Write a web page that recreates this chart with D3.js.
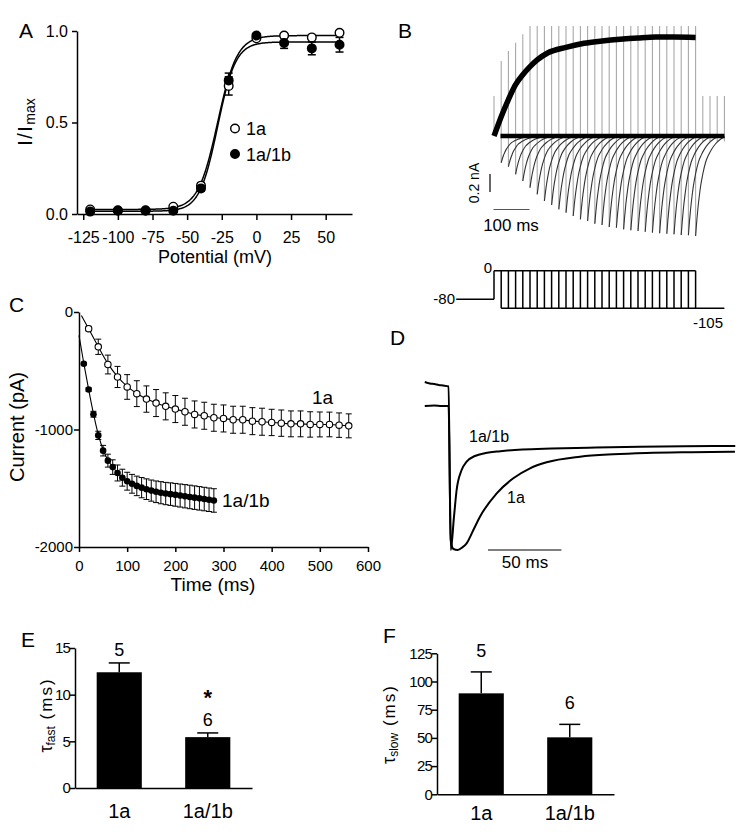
<!DOCTYPE html>
<html><head><meta charset="utf-8">
<script src="https://cdn.jsdelivr.net/npm/d3@7"></script>
<style>body{margin:0;background:#fff}svg{display:block}</style>
</head><body><svg id="fig" width="753" height="832"></svg>
<script>
// ---------------- DATA ----------------
// Panel A: activation curves
const aVolt   = [-120,-100,-80,-60,-40,-20,0,20,40,60];
const a1a     = [0.025,0.02,0.02,0.04,0.155,0.70,0.96,0.975,0.965,0.99];
const a1aErr  = [0.005,0.005,0.005,0.008,0.015,0.05,0.01,0.01,0.01,0.01];
const a1ab    = [0.013,0.018,0.018,0.018,0.14,0.73,0.975,0.935,0.905,0.925];
const a1abErr = [0.005,0.005,0.005,0.005,0.015,0.04,0.01,0.03,0.035,0.04];
const aFit1a  = {vh:-28, k:7.0, bottom:0.025, top:0.975};
const aFit1ab = {vh:-28, k:6.5, bottom:0.015, top:0.94};
const aTicksX = [-125,-100,-75,-50,-25,0,25,50];
const aTicksY = [0,0.5,1.0];

// Panel B: envelope / tails (pA, ms)
const bEnvT = [0,20,40,60,80,100,120,150,200,250,300,350,400,450,500,560];
const bEnvI = [0,215,405,570,680,770,845,925,985,1030,1055,1075,1090,1100,1100,1095];
const bPulseT = [20,40,60,80,100,120,140,160,180,200,220,240,260,280,300,320,340,360,380,400,420,440,460,480,500,520,540,560];
const bTailPeak = [-297,-341,-426,-500,-574,-648,-722,-767,-815,-852,-889,-926,-944,-974,-989,-1011,-1019,-1037,-1048,-1056,-1063,-1074,-1081,-1086,-1092,-1100,-1103,-1111];
const bSpikeTop = [833,944,1037,1130,1222,1222,1222,1222,1222,1222,1222,1222,1222,1222,1222,1222,1222,1222,1222,1222,1222,1222,1222,1222,1222,1222,1222,1222];
const bOnsetTop = 444;
const bOffT = [580,600,620,640];
const bOffTop = 444;
const bTailShapeT = [0,3,6,10,14,20,28,36,45,55,70,90];
const bTailShapeF = [1,0.86,0.74,0.61,0.5,0.38,0.26,0.19,0.13,0.08,0.03,0];
const bProtoV = {hold:-80, step:0, tail:-105};

// Panel C: tail current vs pulse duration
const c1aT = [20,40,60,80,100,120,140,160,180,200,220,240,260,280,300,320,340,360,380,400,420,440,460,480,500,520,540,560];
const c1aI = [-142,-296,-447,-553,-638,-695,-741,-775,-803,-826,-849,-872,-883,-900,-906,-917,-917,-929,-934,-940,-946,-952,-952,-957,-957,-957,-963,-969];
const c1aE = [20,65,80,90,105,110,112,115,115,115,115,115,115,115,115,115,115,115,115,112,112,110,110,108,106,105,104,102];
const c1abT = [10,20,30,40,50,60,70,80,90,100,110,120,130,140,150,160,170,180,190,200,210,220,230,240,250,260,270,280];
const c1abI = [-440,-660,-870,-1050,-1180,-1265,-1320,-1370,-1410,-1440,-1462,-1480,-1495,-1508,-1520,-1530,-1538,-1545,-1550,-1556,-1562,-1568,-1574,-1580,-1586,-1592,-1598,-1604];
const c1abE = [5,15,25,35,45,55,62,68,72,76,80,83,86,88,90,92,94,95,96,97,98,99,100,100,100,100,100,100];
const cFitStart1a = [5,-30];
const cFitStart1ab = [0,-200];
const cTicksX = [0,100,200,300,400,500,600];
const cTicksY = [0,-1000,-2000];

// Panel D: normalized traces
const dAbT = [-16.5,-13,-10,-7,-4,-0.3,1.2,3.4,5.2,8.6,12,17.7,25,35,50,70,100,130,160,195];
const dAbI = [0.68,0.665,0.66,0.65,0.645,0.635,-1.0,-0.667,-0.4,-0.2,-0.117,-0.06,-0.03,-0.012,0.005,0.015,0.025,0.033,0.038,0.04];
const dAT  = [-16.5,-10,-5,-0.3,1.2,3,6,9,12,16.6,21.1,32.5,43.8,55.2,66.5,89.2,111.9,134.6,165,194.8];
const dAI  = [0.44,0.445,0.44,0.44,-0.9,-0.99,-1.0,-0.975,-0.933,-0.8,-0.667,-0.433,-0.283,-0.183,-0.123,-0.067,-0.043,-0.03,-0.022,-0.017];

// Panels E/F: bar charts
const barCats = ["1a","1a/1b"];
const nCells = [5,6];
const tauFast = [12.4,5.45];
const tauFastErr = [1.0,0.45];
const tauSlow = [89.5,50.5];
const tauSlowErr = [19,11.5];
const eTicks = [0,5,10,15];
const fTicks = [0,25,50,75,100,125];

// ---------------- DRAW ----------------
const FONT = '"Liberation Sans", Arial, Helvetica, sans-serif';
const svg = d3.select("#fig");
svg.append("rect").attr("width",753).attr("height",832).attr("fill","#fff");

function styleAxis(g, fs){
  g.attr("font-family",FONT).attr("font-size",fs);
  g.select(".domain").attr("stroke","#000").attr("stroke-width",1.5);
  g.selectAll(".tick line").attr("stroke","#000").attr("stroke-width",1.5);
  g.selectAll(".tick text").attr("fill","#000");
}
function text(x,y,s,fs,anchor){
  return svg.append("text").attr("x",x).attr("y",y).attr("font-family",FONT)
    .attr("font-size",fs).attr("text-anchor",anchor||"start").attr("fill","#000").text(s);
}
const fmt = d => String(d);

// Panel letters
text(19,38,"A",21); text(398,38,"B",21); text(9,312,"C",21);
text(390,345,"D",21); text(21,647,"E",21); text(383,643,"F",21);

// ---------- Panel A ----------
{
  const x = d3.scaleLinear().domain([-129.5,69]).range([77,352]);
  const y = d3.scaleLinear().domain([0,1]).range([214,31]);
  const gx = svg.append("g").attr("transform","translate(0,214)")
    .call(d3.axisBottom(x).tickValues(aTicksX).tickFormat(fmt).tickSize(6).tickSizeOuter(0).tickPadding(12));
  styleAxis(gx,16);
  const gy = svg.append("g").attr("transform","translate(77,0)")
    .call(d3.axisLeft(y).tickValues(aTicksY).tickFormat(d3.format(".1f")).tickSize(5).tickSizeOuter(0).tickPadding(4));
  styleAxis(gy,16);
  const boltz = (v,f) => f.bottom + (f.top-f.bottom)/(1+Math.exp((f.vh-v)/f.k));
  const vs = d3.range(-123,63,0.5);
  [aFit1a,aFit1ab].forEach(f=>{
    svg.append("path").attr("d",d3.line().x(v=>x(v)).y(v=>y(boltz(v,f)))(vs))
      .attr("fill","none").attr("stroke","#000").attr("stroke-width",1.5);
  });
  const series = [{v:a1a,e:a1aErr,fill:"#fff"},{v:a1ab,e:a1abErr,fill:"#000"}];
  series.forEach(s=>{
    aVolt.forEach((v,i)=>{
      const cx=x(v), y1=y(s.v[i]+s.e[i]), y2=y(s.v[i]-s.e[i]);
      svg.append("line").attr("x1",cx).attr("x2",cx).attr("y1",y1).attr("y2",y2).attr("stroke","#000").attr("stroke-width",1.5);
      [y1,y2].forEach(yy=>svg.append("line").attr("x1",cx-4).attr("x2",cx+4).attr("y1",yy).attr("y2",yy).attr("stroke","#000").attr("stroke-width",1.5));
    });
  });
  series.forEach(s=>{
    svg.append("g").selectAll("circle").data(aVolt).join("circle")
      .attr("cx",v=>x(v)).attr("cy",(v,i)=>y(s.v[i])).attr("r",4.3)
      .attr("fill",s.fill).attr("stroke","#000").attr("stroke-width",1.4);
  });
  // legend
  svg.append("circle").attr("cx",235).attr("cy",128.5).attr("r",4.3).attr("fill","#fff").attr("stroke","#000").attr("stroke-width",1.4);
  text(246,135,"1a",18);
  svg.append("circle").attr("cx",235).attr("cy",154).attr("r",4.3).attr("fill","#000").attr("stroke","#000").attr("stroke-width",1.4);
  text(246,161,"1a/1b",18);
  text(215,263,"Potential (mV)",18,"middle");
  const yl = svg.append("text").attr("transform","translate(32,122) rotate(-90)")
    .attr("font-family",FONT).attr("text-anchor","middle").attr("fill","#000");
  yl.append("tspan").attr("font-size",20).attr("letter-spacing",1.5).text("I/I");
  yl.append("tspan").attr("font-size",14).attr("dy",3).text("max");
}

// ---------- Panel B ----------
{
  const x = d3.scaleLinear().domain([0,100]).range([494,530]);
  const y = d3.scaleLinear().domain([0,1000]).range([136,46]);
  const clipId="clipB";
  svg.append("clipPath").attr("id",clipId).append("rect").attr("x",440).attr("y",0).attr("width",x(640)-440+0.5).attr("height",260);
  const gB = svg.append("g").attr("clip-path",`url(#${clipId})`);
  const gray="#a8a8a8";
  // capacitive spikes
  gB.append("line").attr("x1",x(0)).attr("x2",x(0)).attr("y1",y(bOnsetTop)).attr("y2",y(0)).attr("stroke",gray).attr("stroke-width",1.1);
  bPulseT.forEach((t,i)=>{
    gB.append("line").attr("x1",x(t)).attr("x2",x(t)).attr("y1",y(bSpikeTop[i])).attr("y2",y(bTailPeak[i]))
      .attr("stroke",gray).attr("stroke-width",1.1);
  });
  bOffT.forEach(t=>{
    gB.append("line").attr("x1",x(t)).attr("x2",x(t)).attr("y1",y(bOffTop)).attr("y2",y(-60))
      .attr("stroke",gray).attr("stroke-width",1.1);
  });
  // tails
  const tl = d3.line().x(d=>x(d[0])).y(d=>y(d[1])).curve(d3.curveMonotoneX);
  bPulseT.forEach((t,i)=>{
    const pts = bTailShapeT.map((s,j)=>[t+s, bTailPeak[i]*bTailShapeF[j]]);
    gB.append("path").attr("d",tl(pts)).attr("fill","none").attr("stroke","#333").attr("stroke-width",1.1);
  });
  // baseline band
  gB.append("line").attr("x1",x(18)).attr("x2",x(640)).attr("y1",y(0)).attr("y2",y(0)).attr("stroke","#000").attr("stroke-width",4.5);
  // envelope
  const env = bEnvT.map((t,i)=>[t,bEnvI[i]]);
  gB.append("path").attr("d",d3.line().x(d=>x(d[0])).y(d=>y(d[1])).curve(d3.curveMonotoneX)(env))
    .attr("fill","none").attr("stroke","#000").attr("stroke-width",5.5);
  // scale bars
  const sbTop = 174;
  svg.append("line").attr("x1",490).attr("x2",490).attr("y1",sbTop).attr("y2",sbTop+(y(0)-y(200))).attr("stroke","#000").attr("stroke-width",1.2);
  svg.append("text").attr("transform","translate(479,183) rotate(-90)").attr("font-family",FONT).attr("font-size",14)
    .attr("text-anchor","middle").attr("fill","#000").text("0.2 nA");
  svg.append("line").attr("x1",x(0)-0.5).attr("x2",x(100)-0.5).attr("y1",209.5).attr("y2",209.5).attr("stroke","#555").attr("stroke-width",1.2);
  text(511,231,"100 ms",17,"middle");
  // voltage protocol
  const yv = d3.scaleLinear().domain([-105,0]).range([308.3,270.7]);
  const ln = (x1,y1,x2,y2)=>svg.append("line").attr("x1",x1).attr("x2",x2).attr("y1",y1).attr("y2",y2).attr("stroke","#000").attr("stroke-width",1.5);
  ln(x(-105),yv(bProtoV.hold),x(0),yv(bProtoV.hold));
  ln(x(0),yv(bProtoV.hold),x(0),yv(bProtoV.step));
  ln(x(0),yv(bProtoV.step),x(560),yv(bProtoV.step));
  ln(x(20),yv(bProtoV.tail),x(640),yv(bProtoV.tail));
  bPulseT.forEach(t=>ln(x(t),yv(bProtoV.step),x(t),yv(bProtoV.tail)));
  text(492,273,"0",15,"end");
  text(455,304,"-80",15,"end");
  text(723,328,"-105",15,"end");
}

// ---------- Panel C ----------
{
  const x = d3.scaleLinear().domain([0,600]).range([79,368]);
  const y = d3.scaleLinear().domain([-2000,0]).range([547,312]);
  const gx = svg.append("g").attr("transform","translate(0,547)")
    .call(d3.axisBottom(x).tickValues(cTicksX).tickFormat(fmt).tickSize(5).tickSizeOuter(0).tickPadding(8));
  styleAxis(gx,15);
  const gy = svg.append("g").attr("transform","translate(79,0)")
    .call(d3.axisLeft(y).tickValues(cTicksY).tickFormat(fmt).tickSize(5).tickSizeOuter(0).tickPadding(1));
  styleAxis(gy,15);
  const fl = d3.line().x(d=>x(d[0])).y(d=>y(d[1])).curve(d3.curveBasis);
  const s1 = [cFitStart1a].concat(c1aT.map((t,i)=>[t,c1aI[i]]));
  const s2 = [cFitStart1ab].concat(c1abT.map((t,i)=>[t,c1abI[i]]));
  svg.append("path").attr("d",fl(s1)).attr("fill","none").attr("stroke","#000").attr("stroke-width",1.1);
  svg.append("path").attr("d",fl(s2)).attr("fill","none").attr("stroke","#000").attr("stroke-width",1.1);
  const errs = (T,I,E)=>{
    T.forEach((t,i)=>{
      const cx=x(t), y1=y(I[i]+E[i]), y2=y(I[i]-E[i]);
      svg.append("line").attr("x1",cx).attr("x2",cx).attr("y1",y1).attr("y2",y2).attr("stroke","#000").attr("stroke-width",1);
      [y1,y2].forEach(yy=>svg.append("line").attr("x1",cx-3).attr("x2",cx+3).attr("y1",yy).attr("y2",yy).attr("stroke","#000").attr("stroke-width",1));
    });
  };
  errs(c1aT,c1aI,c1aE);
  errs(c1abT,c1abI,c1abE);
  svg.append("g").selectAll("circle").data(c1aT).join("circle")
    .attr("cx",t=>x(t)).attr("cy",(t,i)=>y(c1aI[i])).attr("r",3.2).attr("fill","#fff").attr("stroke","#000").attr("stroke-width",1.1);
  svg.append("g").selectAll("circle").data(c1abT).join("circle")
    .attr("cx",t=>x(t)).attr("cy",(t,i)=>y(c1abI[i])).attr("r",3.3).attr("fill","#000");
  text(312,404,"1a",19);
  text(222,507,"1a/1b",19);
  text(213,591,"Time (ms)",19,"middle");
  svg.append("text").attr("transform","translate(24,427) rotate(-90)").attr("font-family",FONT).attr("font-size",20)
    .attr("text-anchor","middle").attr("fill","#000").text("Current (pA)");
}

// ---------- Panel D ----------
{
  const x = d3.scaleLinear().domain([0,50]).range([449,522.4]);
  const y = d3.scaleLinear().domain([-1,0]).range([550,450]);
  const l = d3.line().x(d=>x(d[0])).y(d=>y(d[1])).curve(d3.curveMonotoneX);
  svg.append("path").attr("d",l(dAT.map((t,i)=>[t,dAI[i]]))).attr("fill","none").attr("stroke","#000").attr("stroke-width",2);
  svg.append("path").attr("d",l(dAbT.map((t,i)=>[t,dAbI[i]]))).attr("fill","none").attr("stroke","#000").attr("stroke-width",2);
  svg.append("line").attr("x1",488).attr("x2",488+x(50)-x(0)).attr("y1",550).attr("y2",550).attr("stroke","#000").attr("stroke-width",1.2);
  text(525,568,"50 ms",17,"middle");
  text(469,442,"1a/1b",16);
  text(507,503,"1a",16);
}

// ---------- Panels E & F ----------
function barPanel(opt){
  const x = d3.scaleBand().domain(barCats).range([opt.x0,opt.x1]).paddingInner(0.49).paddingOuter(0.245);
  const y = d3.scaleLinear().domain([0,opt.max]).range([opt.y0,opt.yTop]);
  svg.append("g").selectAll("rect").data(barCats).join("rect")
    .attr("x",c=>x(c)).attr("width",x.bandwidth())
    .attr("y",(c,i)=>y(opt.vals[i])).attr("height",(c,i)=>opt.y0-y(opt.vals[i])).attr("fill","#000");
  barCats.forEach((c,i)=>{
    const cx = x(c)+x.bandwidth()/2, yt = y(opt.vals[i]+opt.errs[i]);
    svg.append("line").attr("x1",cx).attr("x2",cx).attr("y1",y(opt.vals[i])).attr("y2",yt).attr("stroke","#000").attr("stroke-width",1.5);
    svg.append("line").attr("x1",cx-10.5).attr("x2",cx+10.5).attr("y1",yt).attr("y2",yt).attr("stroke","#000").attr("stroke-width",1.5);
    text(cx, yt-opt.nOff, String(nCells[i]), 18, "middle");
    if (opt.star && opt.star[i]) text(cx, yt-opt.nOff-21, "*", 22, "middle").attr("font-weight","bold");
    text(cx, opt.catY, c, 20, "middle");
  });
  const gy = svg.append("g").attr("transform",`translate(${opt.x0},0)`)
    .call(d3.axisLeft(y).tickValues(opt.ticks).tickFormat(fmt).tickSize(5).tickSizeOuter(0).tickPadding(0));
  styleAxis(gy,15);
  gy.selectAll(".tick text").attr("letter-spacing",-0.8);
  const gx = svg.append("g").attr("transform",`translate(0,${opt.y0})`)
    .call(d3.axisBottom(x).tickValues([]).tickSizeOuter(0));
  styleAxis(gx,15);
  const yl = svg.append("text").attr("transform",`translate(${opt.labX},${opt.labY}) rotate(-90)`)
    .attr("font-family",FONT).attr("text-anchor","middle").attr("fill","#000");
  yl.append("tspan").attr("font-size",18).text("τ");
  yl.append("tspan").attr("font-size",12).attr("dy",3).text(opt.sub);
  yl.append("tspan").attr("font-size",17).attr("dy",-3).attr("letter-spacing",2).text(" (ms)");
}
barPanel({x0:75,x1:252,y0:788,yTop:648,max:15,vals:tauFast,errs:tauFastErr,ticks:eTicks,
  nOff:7,star:[false,true],catY:818,labX:52,labY:715,sub:"fast"});
barPanel({x0:437,x1:614,y0:794.3,yTop:653.3,max:125,vals:tauSlow,errs:tauSlowErr,ticks:fTicks,
  nOff:15,catY:820,labX:395,labY:724,sub:"slow"});
</script></body></html>
